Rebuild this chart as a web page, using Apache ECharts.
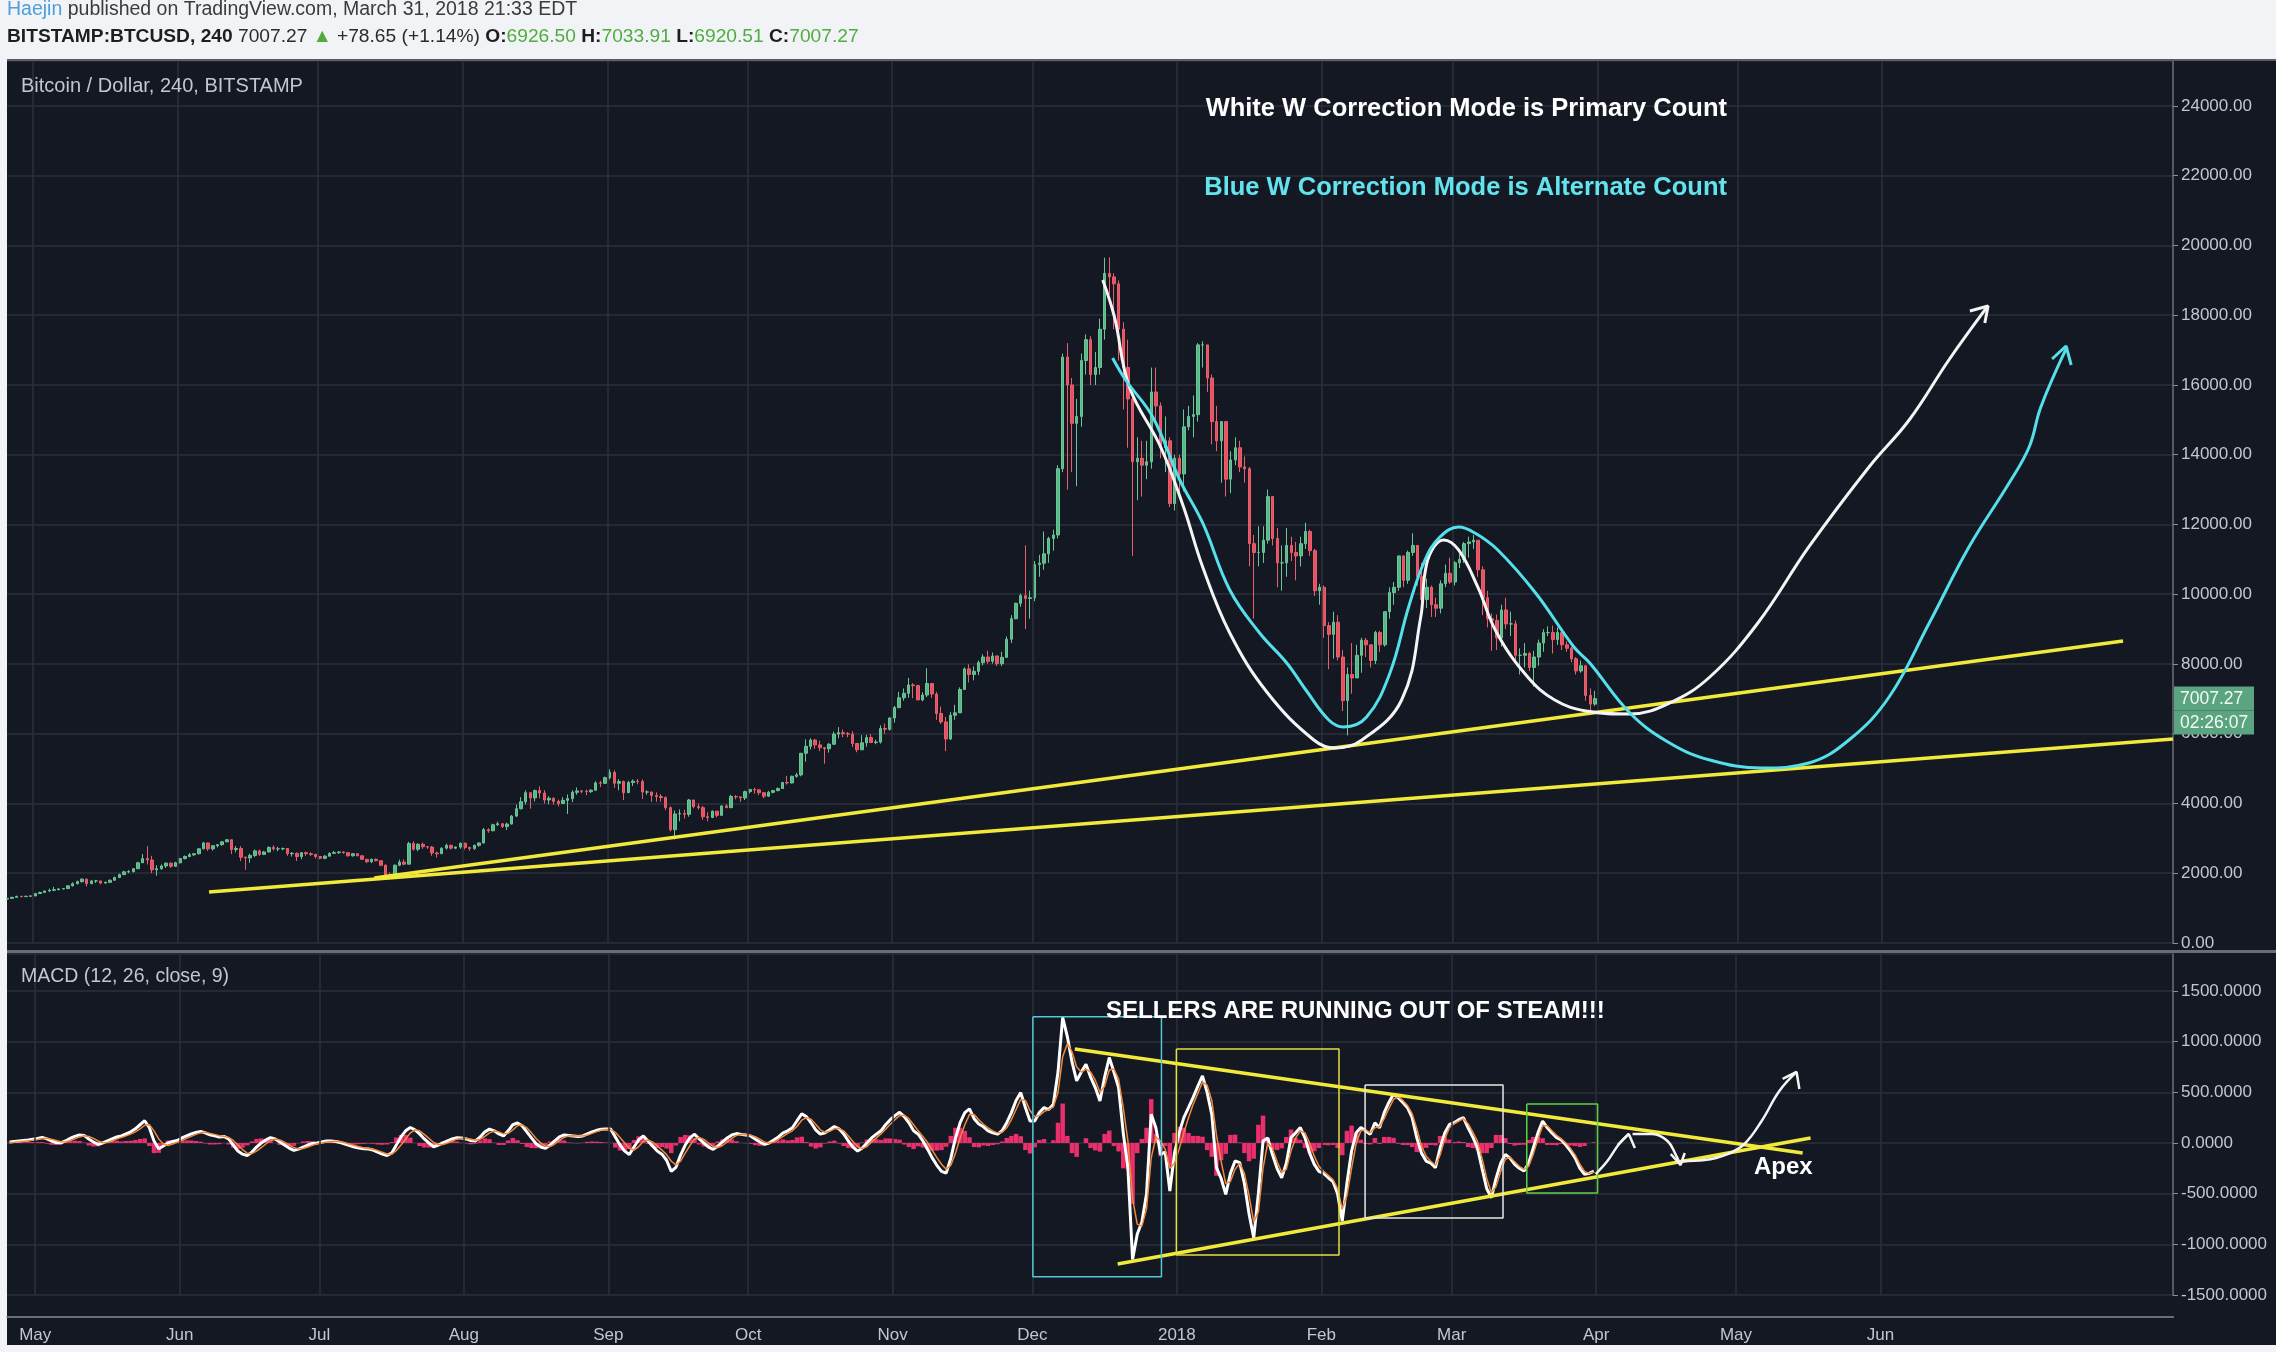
<!DOCTYPE html>
<html>
<head>
<meta charset="utf-8">
<title>BTCUSD 240 - W correction</title>
<script src="https://cdn.jsdelivr.net/npm/echarts@6/dist/echarts.min.js"></script>
<style>
  html, body { margin: 0; padding: 0; background: #f1f3f7; }
  #chart { width: 2276px; height: 1352px; }
</style>
</head>
<body>
<div id="chart"></div>
<script>
// daily candles from Apr 25 2017 (open = previous close)
const DAY = 86400000;
const dayZero = Date.UTC(2017, 4, 1); // May 1 2017 -> day 0
const firstDay = -6;                   // Apr 25 2017
const firstOpen = 1260;
const lastPrice = 7007.27;
const monthNames = ['Jan', 'Feb', 'Mar', 'Apr', 'May', 'Jun', 'Jul', 'Aug', 'Sep', 'Oct', 'Nov', 'Dec'];
// month starts that carry a grid line and a label
const monthTicks = ['2017-05', '2017-06', '2017-07', '2017-08', '2017-09', '2017-10', '2017-11', '2017-12',
  '2018-01', '2018-02', '2018-03', '2018-04', '2018-05', '2018-06'];

const closes = [
  1280, 1310, 1340, 1330, 1340, 1350,
  // May
  1420, 1450, 1490, 1510, 1530, 1550, 1560, 1640, 1700, 1760, 1830, 1700, 1780, 1780, 1720, 1740, 1800, 1880, 1960, 2040, 2050, 2130, 2300, 2420, 2380, 2100, 2130, 2210, 2290, 2200, 2300,
  // Jun
  2420, 2480, 2530, 2560, 2700, 2870, 2700, 2790, 2820, 2900, 2960, 2680, 2710, 2460, 2440, 2510, 2640, 2540, 2610, 2740, 2700, 2700, 2710, 2560, 2570, 2480, 2590, 2560, 2540, 2480,
  // Jul
  2430, 2490, 2570, 2590, 2610, 2590, 2500, 2560, 2500, 2400, 2330, 2400, 2360, 2230, 1950, 1930, 2230, 2320, 2260, 2850, 2690, 2830, 2760, 2750, 2580, 2560, 2720, 2800, 2720, 2750, 2860,
  // Aug
  2740, 2710, 2800, 2870, 3250, 3220, 3390, 3420, 3340, 3410, 3640, 3850, 4050, 4310, 4160, 4370, 4300, 4100, 4150, 4060, 4000, 4090, 4140, 4320, 4360, 4350, 4340, 4380, 4590, 4580, 4740,
  // Sep
  4890, 4580, 4630, 4310, 4600, 4640, 4630, 4330, 4330, 4230, 4200, 4170, 3880, 3250, 3700, 3710, 3690, 4100, 3910, 3880, 3620, 3600, 3780, 3660, 3930, 3880, 4200, 4190, 4160, 4340,
  // Oct
  4400, 4390, 4310, 4210, 4320, 4370, 4430, 4600, 4590, 4780, 4820, 5440, 5640, 5820, 5680, 5600, 5570, 5700, 5990, 6030, 6000, 5990, 5720, 5540, 5740, 5890, 5750, 5760, 6150, 6130, 6450,
  // Nov
  6750, 7030, 7160, 7400, 7380, 6970, 7110, 7440, 7140, 6580, 6340, 5850, 6530, 6600, 7270, 7860, 7700, 7790, 8040, 8200, 8080, 8230, 8010, 8190, 8710, 9300, 9740, 9960, 9880, 9900,
  // Dec
  10850, 10890, 11160, 11600, 11700, 13600, 16800, 16000, 14900, 15100, 16700, 17300, 16300, 16500, 17600, 19200, 19100, 18900, 17600, 16500, 15600, 13800, 13900, 13700, 13800, 15800, 15400, 14200, 14400, 12600, 13900,
  // Jan 2018
  13450, 14800, 15100, 15150, 17150, 17150, 16200, 14950, 14400, 14950, 13300, 13850, 14200, 13650, 13600, 11450, 11200, 11200, 11550, 12800, 11600, 10900, 10900, 11400, 11200, 11100, 11450, 11800, 11250, 10100, 10200,
  // Feb
  9100, 8850, 9200, 8200, 6950, 7700, 7600, 8250, 8680, 8550, 8100, 8900, 8550, 9500, 10050, 10200, 11100, 10400, 11200, 11400, 10500, 9850, 10200, 9700, 9600, 10300, 10600, 10350,
  // Mar
  10900, 11000, 11450, 11500, 11550, 10700, 9900, 9300, 9250, 8750, 9550, 9150, 9150, 8250, 8250, 8300, 7900, 8200, 8600, 8900, 8900, 8700, 8900, 8550, 8450, 8150, 7800, 7950, 7100, 6850, 7007.27
];

const highs = [
  1290, 1320, 1350, 1350, 1355, 1365,
  1430, 1470, 1500, 1560, 1610, 1570, 1580, 1660, 1740, 1790, 1860, 1850, 1800, 1810, 1780, 1760, 1820, 1900, 1990, 2070, 2090, 2150, 2330, 2550, 2780, 2500, 2230, 2250, 2310, 2310, 2330,
  2440, 2510, 2580, 2580, 2720, 2900, 2880, 2800, 2840, 2920, 2980, 2970, 2780, 2780, 2480, 2560, 2680, 2680, 2640, 2770, 2800, 2760, 2740, 2720, 2610, 2600, 2610, 2620, 2600, 2560,
  2490, 2520, 2600, 2640, 2630, 2630, 2600, 2570, 2560, 2520, 2410, 2420, 2420, 2360, 2250, 2020, 2250, 2390, 2400, 2900, 2920, 2860, 2880, 2780, 2780, 2620, 2740, 2850, 2820, 2770, 2880,
  2880, 2760, 2820, 2880, 3300, 3290, 3420, 3480, 3430, 3450, 3670, 3970, 4180, 4380, 4320, 4400, 4490, 4380, 4210, 4180, 4110, 4180, 4260, 4380, 4460, 4390, 4400, 4410, 4640, 4650, 4770,
  4980, 4950, 4700, 4660, 4650, 4690, 4700, 4690, 4380, 4340, 4320, 4270, 4200, 3920, 3800, 3830, 3820, 4130, 4100, 4000, 3930, 3750, 3800, 3790, 3950, 3980, 4250, 4240, 4200, 4370,
  4420, 4450, 4410, 4330, 4360, 4390, 4460, 4620, 4790, 4800, 4880, 5450, 5840, 5870, 5850, 5800, 5610, 5730, 6060, 6190, 6120, 6050, 6070, 5740, 5960, 5970, 5990, 5830, 6240, 6290, 6470,
  6800, 7200, 7300, 7600, 7450, 7400, 7190, 7880, 7330, 7200, 6780, 6480, 6620, 6830, 7330, 7900, 7990, 7930, 8100, 8280, 8380, 8330, 8240, 8350, 8790, 9400, 9760, 10020, 11400, 10100,
  10950, 11130, 11800, 11650, 11850, 13700, 16900, 17200, 16200, 15600, 16900, 17450, 17400, 16950, 17900, 19650, 19660, 19200, 19000, 17800, 17300, 15800, 14500, 14400, 14400, 16500, 16500, 15500, 15100, 14500, 14000,
  14000, 15300, 15400, 15700, 17200, 17250, 17150, 16300, 15400, 14950, 14950, 14100, 14500, 14400, 13950, 13650, 11700, 11950, 11950, 13000, 12800, 11900, 11400, 11900, 11650, 11500, 11650, 12050, 11850, 11300, 10300,
  10250, 9200, 9500, 9400, 8400, 7900, 8600, 8550, 8750, 8750, 8550, 8950, 8950, 9500, 10200, 10350, 11100, 11100, 11250, 11750, 11400, 10900, 10450, 10250, 9900, 10400, 10850, 11050,
  10950, 11150, 11500, 11650, 11700, 11550, 10800, 10100, 9450, 9420, 9700, 9900, 9500, 9250, 8450, 8600, 8350, 8380, 8700, 9000, 9080, 9100, 9050, 8900, 8650, 8500, 8200, 8100, 7950, 7300, 7230
];

const lows = [
  1255, 1270, 1300, 1310, 1320, 1325,
  1340, 1410, 1440, 1470, 1490, 1510, 1540, 1560, 1620, 1680, 1730, 1620, 1690, 1720, 1680, 1700, 1720, 1790, 1860, 1950, 2000, 2020, 2120, 2300, 2250, 2000, 1930, 2100, 2150, 2150, 2180,
  2280, 2400, 2460, 2490, 2540, 2690, 2640, 2650, 2740, 2790, 2900, 2550, 2600, 2350, 2100, 2300, 2460, 2500, 2520, 2600, 2650, 2630, 2660, 2500, 2480, 2350, 2400, 2500, 2490, 2420,
  2400, 2400, 2480, 2550, 2560, 2560, 2480, 2480, 2490, 2380, 2290, 2290, 2340, 2200, 1900, 1840, 1930, 2200, 2230, 2260, 2650, 2630, 2700, 2700, 2500, 2450, 2560, 2680, 2680, 2690, 2700,
  2680, 2640, 2670, 2760, 2850, 3160, 3200, 3360, 3300, 3240, 3400, 3610, 3830, 3970, 3850, 4060, 4150, 4000, 3980, 3970, 3920, 3990, 3700, 4040, 4250, 4290, 4240, 4300, 4380, 4470, 4560,
  4690, 4450, 4380, 4100, 4300, 4500, 4550, 4130, 4250, 4050, 4050, 4050, 3810, 3200, 2970, 3490, 3570, 3620, 3860, 3830, 3530, 3490, 3580, 3600, 3640, 3870, 3870, 4120, 4050, 4100,
  4290, 4280, 4240, 4150, 4190, 4290, 4350, 4420, 4540, 4570, 4740, 4780, 5200, 5550, 5570, 5500, 5140, 5460, 5680, 5870, 5900, 5900, 5620, 5470, 5540, 5630, 5730, 5700, 5720, 6000, 6090,
  6320, 6730, 6950, 7030, 7020, 6970, 6930, 7050, 7030, 6400, 6280, 5500, 5820, 6400, 6620, 7270, 7470, 7530, 7680, 7960, 8010, 8010, 7940, 7940, 8170, 8600, 9280, 9640, 9000, 9300,
  9800, 10500, 10700, 10900, 11250, 11600, 13500, 13000, 13500, 13100, 14800, 16300, 16000, 16000, 16300, 17300, 18600, 17600, 16700, 15300, 14200, 11100, 12700, 12800, 13300, 13600, 14900, 13900, 13500, 12500, 12400,
  12750, 12950, 14700, 14500, 14950, 16500, 15800, 14300, 14100, 13200, 12800, 12900, 13700, 13500, 13200, 10800, 9300, 10800, 10900, 11450, 11400, 10200, 10100, 10500, 10950, 10400, 10800, 11300, 11100, 9950, 9700,
  8750, 7850, 8150, 8100, 6650, 5950, 7150, 7600, 7750, 8200, 7900, 8000, 8350, 8500, 9300, 9700, 10100, 10200, 10300, 11100, 10250, 9800, 9600, 9350, 9350, 9450, 10200, 10300,
  10250, 10750, 10900, 11050, 11300, 10500, 9400, 9050, 8380, 8400, 8500, 9000, 8800, 8100, 7700, 7900, 7800, 7350, 7950, 8350, 8800, 8300, 8550, 8400, 8350, 8050, 7700, 7750, 6950, 6600, 6800
];

// MACD (12, 26, close, 9) sampled once a day
const macd = [
  10, 15, 20, 25, 30, 38,
  45, 55, 40, 20, 5, 0, 20, 45, 65, 80, 75, 40, 10, -13, 0, 20, 40, 60, 70, 90, 110, 140, 180, 220, 150, 20, -57, -30, 0, 15, 25,
  50, 70, 90, 105, 113, 100, 80, 70, 60, 65, 40, -20, -80, -110, -123, -90, -40, 0, 30, 53, 40, 10, -20, -50, -73, -60, -40, -20, -5, 0,
  10, 20, 20, 15, 5, -10, -25, -40, -50, -57, -60, -70, -90, -110, -123, -100, -20, 60, 120, 153, 130, 90, 40, 0, -37, -20, 0, 20, 40, 53, 50,
  40, 25, 20, 60, 110, 137, 120, 90, 70, 120, 180, 197, 170, 110, 50, -7, -40, -53, -20, 20, 60, 80, 75, 70, 65, 70, 90, 110, 125, 135, 137,
  137, 60, -20, -80, -113, -40, 30, 70, 20, -30, -80, -110, -170, -280, -240, -120, -20, 50, 87, 40, 0, -40, -63, -30, 10, 50, 80, 93, 85, 80,
  70, 40, 10, -13, 0, 30, 60, 100, 120, 150, 220, 287, 260, 200, 130, 87, 100, 130, 163, 140, 90, 20, -40, -80, -50, 0, 50, 87, 120, 180, 230,
  270, 303, 260, 200, 120, 87, 20, -60, -147, -220, -280, -297, -150, 50, 200, 300, 337, 240, 187, 160, 120, 100, 87, 120, 200, 300, 420, 497, 350, 217,
  217, 300, 349, 330, 382, 700, 1239, 1050, 800, 613, 700, 777, 650, 547, 415, 650, 843, 700, 547, 100, -244, -1150, -900, -780, -500, 283, 150, -112, -90, -474, -100,
  100, 250, 349, 450, 560, 662, 500, 283, -244, -350, -507, -300, -178, -194, -400, -700, -935, -500, 20, 50, -112, -250, -343, -200, 53, 100, 152, 50, -100, -211, -280,
  -300, -343, -380, -500, -771, -400, -79, 100, 152, 120, 86, 200, 150, 300, 400, 481, 448, 400, 349, 250, 50, -100, -178, -200, -244, -50, 100, 184,
  200, 230, 250, 150, 60, -46, -250, -450, -540, -350, -200, -112, -150, -211, -250, -277, -200, -50, 100, 217, 150, 100, 53, 30, -20, -79, -150, -250, -310, -300, -277
];

const signal = [
  5, 8, 12, 17, 22, 28,
  35, 45, 47, 38, 25, 12, 10, 25, 42, 60, 72, 65, 45, 20, 3, 5, 20, 38, 55, 70, 88, 110, 140, 175, 180, 120, 40, -10, -25, -10, 8,
  25, 45, 65, 85, 100, 105, 95, 85, 72, 66, 55, 25, -20, -65, -100, -105, -80, -45, -10, 25, 40, 30, 8, -18, -45, -58, -55, -40, -22, -8,
  0, 10, 15, 17, 12, 2, -12, -25, -38, -48, -55, -62, -75, -92, -108, -110, -75, -20, 40, 100, 130, 120, 85, 45, 5, -15, -15, 0, 20, 38, 47,
  45, 38, 28, 35, 65, 100, 118, 110, 90, 95, 130, 170, 180, 150, 100, 45, 0, -30, -35, -10, 25, 55, 70, 72, 68, 68, 78, 95, 112, 125, 133,
  135, 105, 55, 0, -55, -70, -35, 15, 30, 10, -30, -70, -115, -180, -215, -180, -100, -25, 40, 55, 35, 0, -35, -45, -25, 10, 45, 75, 85, 82,
  78, 62, 38, 10, -2, 10, 35, 65, 95, 120, 165, 225, 250, 235, 185, 130, 105, 115, 140, 145, 120, 70, 15, -35, -55, -35, 10, 50, 90, 135, 185,
  230, 270, 275, 240, 180, 120, 65, 5, -70, -145, -210, -260, -220, -100, 50, 180, 280, 280, 230, 185, 150, 120, 100, 105, 150, 230, 330, 430, 420, 320,
  260, 270, 310, 330, 355, 500, 850, 980, 900, 750, 700, 730, 700, 620, 500, 560, 720, 730, 630, 350, 20, -550, -800, -820, -650, -150, 60, 20, -60, -250, -200,
  -60, 100, 250, 380, 490, 600, 570, 420, 80, -180, -400, -380, -260, -200, -300, -520, -780, -680, -250, 0, -50, -180, -290, -260, -80, 50, 120, 100, 0, -130, -230,
  -280, -320, -360, -450, -650, -520, -250, 0, 120, 130, 100, 150, 160, 240, 340, 430, 455, 420, 370, 290, 140, -30, -130, -180, -220, -120, 40, 150,
  190, 215, 240, 190, 110, 20, -150, -350, -490, -430, -280, -160, -140, -185, -230, -260, -230, -110, 40, 170, 170, 120, 75, 40, 0, -55, -120, -210, -280, -300, -285
];

// drawings, as [day from May 1 2017, value]
const trendLow = [[37.7, 1462], [458.3, 5850]];
const trendHigh = [[73.1, 1864], [447.6, 8659]];
const whiteW = [[229.1, 19011], [231.6, 17950], [234.8, 15943], [241.5, 14222], [246.4, 12502], [250.5, 10781], [256.3, 8889], [264.4, 7168], [274.3, 5821], [278.8, 5591], [284.6, 5821], [293.1, 6968], [297.2, 9348], [298.1, 10609], [299.6, 11269], [302.1, 11556], [305.3, 11269], [309.4, 10208], [313.5, 8889], [320.1, 7627], [325.9, 6968], [332.6, 6652], [342.0, 6566], [350.5, 6882], [359.1, 7627], [369.4, 9176], [380.3, 11355], [393.2, 13649], [401.8, 14996], [410.3, 16717], [418.5, 18237]];
const whiteHead = [[414.8, 18122], [418.7, 18265], [418.0, 17777]];
const cyanW = [[231.2, 16774], [234.0, 16143], [239.8, 15082], [245.6, 13276], [250.5, 12043], [256.3, 10122], [262.7, 8889], [268.5, 8029], [272.6, 7254], [277.5, 6394], [280.7, 6194], [285.6, 6480], [290.6, 7742], [294.6, 9634], [298.1, 10982], [301.3, 11642], [305.3, 11928], [308.8, 11756], [313.7, 11269], [321.8, 10036], [330.0, 8487], [333.4, 8029], [342.0, 6595], [350.5, 5735], [359.1, 5247], [370.3, 5018], [380.3, 5161], [388.9, 5821], [397.5, 7054], [406.1, 9176], [414.6, 11355], [423.2, 13190], [427.5, 14222], [430.0, 15369], [435.6, 17090]];
const cyanHead = [[432.4, 16746], [435.4, 17118], [436.5, 16573]];

const triTop = [[223.1, 928], [379.3, -99]];
const triBottom = [[232.3, -1194], [381.0, 49]];
// boxes: [from day, to day, top, bottom]
const cyanBox = [214.1, 241.7, 1246, -1319];
const yellowBox = [244.9, 279.8, 928, -1105];
const whiteBox = [285.4, 315.0, 572, -740];
const greenBox = [320.1, 335.3, 385, -493];
const arrowA = [[334.9, -306], [337.4, -178], [339.9, -10], [342.0, 89]];
const headA = [[339.6, -20], [342.0, 89], [343.3, -50]];
const arrowB = [[342.8, 89], [347.1, 89], [350.3, 20], [352.0, -109], [353.1, -217]];
const headB = [[351.0, -109], [353.1, -217], [354.0, -99]];
const arrowC = [[353.3, -178], [358.3, -168], [363.2, -109], [366.8, -10], [370.5, 217], [374.3, 513], [378.0, 701]];
const headC = [[375.0, 632], [378.0, 701], [378.6, 533]];

const FONT = '"Liberation Sans", Arial, sans-serif';
const BG = '#141823';
const GRID = '#2b2f3b';
const AXIS_TEXT = '#c3c6ce';

const atDay = d => dayZero + d * DAY;
const pts = arr => arr.map(p => [atDay(p[0]), p[1]]);
const rect = b => [[b[0], b[2]], [b[1], b[2]], [b[1], b[3]], [b[0], b[3]], [b[0], b[2]]];
const tickTimes = monthTicks.map(s => Date.UTC(+s.slice(0, 4), +s.slice(5, 7) - 1, 1));
const lastTick = tickTimes[tickTimes.length - 1];

const candles = closes.map((c, i) => [
  atDay(firstDay + i + 0.5),
  i === 0 ? firstOpen : closes[i - 1],
  c, lows[i], highs[i]
]);
const macdLine = macd.map((v, i) => [atDay(firstDay + i + 0.5), v]);
const signalLine = signal.map((v, i) => [atDay(firstDay + i + 0.5), v]);
const histBars = macd.map((v, i) => [atDay(firstDay + i + 0.5), v - signal[i]]);

function path(data, color, width, extra) {
  return Object.assign({
    type: 'line', data: pts(data), symbol: 'none', showSymbol: false, silent: true,
    lineStyle: { color: color, width: width }, z: 5
  }, extra || {});
}
const inMacd = { xAxisIndex: 1, yAxisIndex: 1 };

// vertical month lines, drawn only up to the last labelled month
function monthLines(grid) {
  return {
    type: 'line', xAxisIndex: grid, yAxisIndex: grid, data: [], silent: true, z: 0,
    markLine: {
      silent: true, symbol: 'none', animation: false,
      label: { show: false },
      lineStyle: { color: GRID, width: 1.5, type: 'solid' },
      data: tickTimes.map(t => ({ xAxis: t }))
    }
  };
}

function timeAxis(grid, showLabels) {
  return {
    type: 'time', gridIndex: grid, min: atDay(-5.57), max: atDay(458.3), splitNumber: 15,
    offset: showLabels ? 22 : 0,
    axisLine: { show: showLabels, onZero: false, lineStyle: { color: '#6b6e78', width: 1.5 } },
    axisTick: { show: false },
    axisLabel: {
      show: showLabels, color: AXIS_TEXT, fontSize: 17, fontFamily: FONT, margin: 10,
      showMinLabel: false, showMaxLabel: false,
      formatter: v => {
        if (v > lastTick + DAY) return '';
        const d = new Date(v);
        return d.getUTCMonth() === 0 ? String(d.getUTCFullYear()) : monthNames[d.getUTCMonth()];
      }
    },
    splitLine: { show: false }
  };
}

function valueAxis(grid, min, max, step, digits) {
  return {
    type: 'value', gridIndex: grid, position: 'right', min: min, max: max, interval: step,
    axisLine: { show: true, lineStyle: { color: '#6b6e78', width: 1.5 } },
    axisTick: { show: true, length: 5, lineStyle: { color: '#8a8d96' } },
    axisLabel: {
      color: AXIS_TEXT, fontSize: 17, fontFamily: FONT, margin: 8, showMaxLabel: false,
      formatter: v => v.toFixed(digits)
    },
    splitLine: { show: true, lineStyle: { color: GRID, width: 1.5 } }
  };
}

const chart = echarts.init(document.getElementById('chart'));
chart.setOption({
  animation: false,
  useUTC: true,
  backgroundColor: BG,
  title: [
    { text: '{a|Haejin} published on TradingView.com, March 31, 2018 21:33 EDT', left: 7, top: 0, padding: 0,
      textStyle: { fontSize: 19.5, fontWeight: 'normal', color: '#3b3b3b', fontFamily: FONT,
        rich: { a: { fontSize: 19.5, color: '#4a9fdd', fontFamily: FONT } } } },
    { text: '{b|BITSTAMP:BTCUSD, 240} 7007.27 {g|▲} +78.65 (+1.14%) {b|O:}{g|6926.50} {b|H:}{g|7033.91} {b|L:}{g|6920.51} {b|C:}{g|7007.27}',
      left: 7, top: 27, padding: 0,
      textStyle: { fontSize: 19.2, fontWeight: 'normal', color: '#2b2b2b', fontFamily: FONT,
        rich: {
          b: { fontSize: 19.2, fontWeight: 'bold', color: '#1e1e1e', fontFamily: FONT },
          g: { fontSize: 19.2, color: '#4fad3f', fontFamily: FONT }
        } } },
    { text: 'Bitcoin / Dollar, 240, BITSTAMP', left: 21, top: 76, padding: 0,
      textStyle: { fontSize: 20, fontWeight: 'normal', color: '#c3c6ce', fontFamily: FONT } },
    { text: 'MACD (12, 26, close, 9)', left: 21, top: 967, padding: 0,
      textStyle: { fontSize: 19.5, fontWeight: 'normal', color: '#c3c6ce', fontFamily: FONT } },
    { text: 'White W Correction Mode is Primary Count', right: 549, top: 96, padding: 0,
      textStyle: { fontSize: 25.5, fontWeight: 'bold', color: '#ffffff', fontFamily: FONT } },
    { text: 'Blue W Correction Mode is Alternate Count', right: 549, top: 175, padding: 0,
      textStyle: { fontSize: 25.5, fontWeight: 'bold', color: '#62e3ee', fontFamily: FONT } },
    { text: 'SELLERS ARE RUNNING OUT OF STEAM!!!', left: 1106, top: 999, padding: 0,
      textStyle: { fontSize: 24, fontWeight: 'bold', color: '#ffffff', fontFamily: FONT } },
    { text: 'Apex', left: 1754, top: 1155, padding: 0,
      textStyle: { fontSize: 24, fontWeight: 'bold', color: '#ffffff', fontFamily: FONT } }
  ],
  graphic: [
    { type: 'rect', left: 0, top: 0, z: -1, shape: { width: 2276, height: 59 }, style: { fill: '#f1f3f7' } },
    { type: 'rect', left: 0, top: 0, z: -1, shape: { width: 7, height: 1352 }, style: { fill: '#f1f3f7' } },
    { type: 'rect', left: 0, top: 1345, z: -1, shape: { width: 2276, height: 7 }, style: { fill: '#f1f3f7' } },
    { type: 'rect', left: 7, top: 59, z: 10, shape: { width: 2269, height: 2 }, style: { fill: '#5a5d68' } },
    { type: 'rect', left: 7, top: 950, z: 10, shape: { width: 2269, height: 3 }, style: { fill: '#6a6d77' } },
    { type: 'rect', left: 7, top: 1316, z: 10, shape: { width: 2167, height: 2 }, style: { fill: '#6a6d77' } }
  ],
  grid: [
    { left: 7, right: 103, top: 61, bottom: 409 },
    { left: 7, right: 103, top: 954, bottom: 57 }
  ],
  xAxis: [timeAxis(0, false), timeAxis(1, true)],
  yAxis: [valueAxis(0, 0, 25290, 2000, 2), valueAxis(1, -1500, 1865, 500, 4)],
  series: [
    monthLines(0),
    monthLines(1),
    {
      type: 'candlestick', xAxisIndex: 0, yAxisIndex: 0, data: candles, barWidth: 3,
      encode: { x: 0, y: [1, 2, 3, 4] },
      itemStyle: { color: '#53b987', color0: '#e8505f', borderColor: '#6cc497', borderColor0: '#e8606d', borderWidth: 1 }
    },
    {
      // last price marker on the price scale
      type: 'line', xAxisIndex: 0, yAxisIndex: 0, data: [], silent: true,
      markLine: {
        silent: true, symbol: 'none', data: [{ yAxis: lastPrice }],
        lineStyle: { color: 'rgba(0,0,0,0)', width: 0 },
        label: {
          show: true, position: 'end', distance: 1, padding: [24, 0, 0, 0],
          formatter: '{p|7007.27}\n{t|02:26:07}',
          rich: {
            p: { backgroundColor: '#5aa57f', color: '#f4fbf6', fontSize: 17.5, fontFamily: FONT, width: 68, height: 19, padding: [3, 6, 2, 6] },
            t: { backgroundColor: '#5aa57f', color: '#f4fbf6', fontSize: 17.5, fontFamily: FONT, width: 68, height: 19, padding: [3, 6, 2, 6] }
          }
        }
      }
    },
    path(trendLow, '#f2ea3a', 3.5),
    path(trendHigh, '#f2ea3a', 3.5),
    path(whiteW, '#f4f4f4', 3, { smooth: 0.4 }),
    path(whiteHead, '#f4f4f4', 3),
    path(cyanW, '#55dfea', 3, { smooth: 0.4 }),
    path(cyanHead, '#55dfea', 3),

    { type: 'bar', xAxisIndex: 1, yAxisIndex: 1, data: histBars, barWidth: 4.5, silent: true,
      itemStyle: { color: '#ea2f6d' }, z: 2 },
    { type: 'line', xAxisIndex: 1, yAxisIndex: 1, data: macdLine, symbol: 'none', silent: true,
      lineStyle: { color: '#ffffff', width: 3 }, z: 3 },
    { type: 'line', xAxisIndex: 1, yAxisIndex: 1, data: signalLine, symbol: 'none', silent: true,
      lineStyle: { color: '#f08a3c', width: 1.5 }, z: 4 },
    path(triTop, '#f2ea3a', 3.5, inMacd),
    path(triBottom, '#f2ea3a', 3.5, inMacd),
    Object.assign(path(rect(cyanBox), '#52c8d8', 1.5), inMacd),
    Object.assign(path(rect(yellowBox), '#e6df3c', 1.5), inMacd),
    Object.assign(path(rect(whiteBox), '#e8e8e8', 1.5), inMacd),
    Object.assign(path(rect(greenBox), '#5fcf45', 1.5), inMacd),
    path(arrowA, '#f4f4f4', 2.5, Object.assign({ smooth: 0.4 }, inMacd)),
    path(headA, '#f4f4f4', 2.5, inMacd),
    path(arrowB, '#f4f4f4', 2.5, Object.assign({ smooth: 0.4 }, inMacd)),
    path(headB, '#f4f4f4', 2.5, inMacd),
    path(arrowC, '#f4f4f4', 2.5, Object.assign({ smooth: 0.4 }, inMacd)),
    path(headC, '#f4f4f4', 2.5, inMacd)
  ]
});
</script>
</body>
</html>
